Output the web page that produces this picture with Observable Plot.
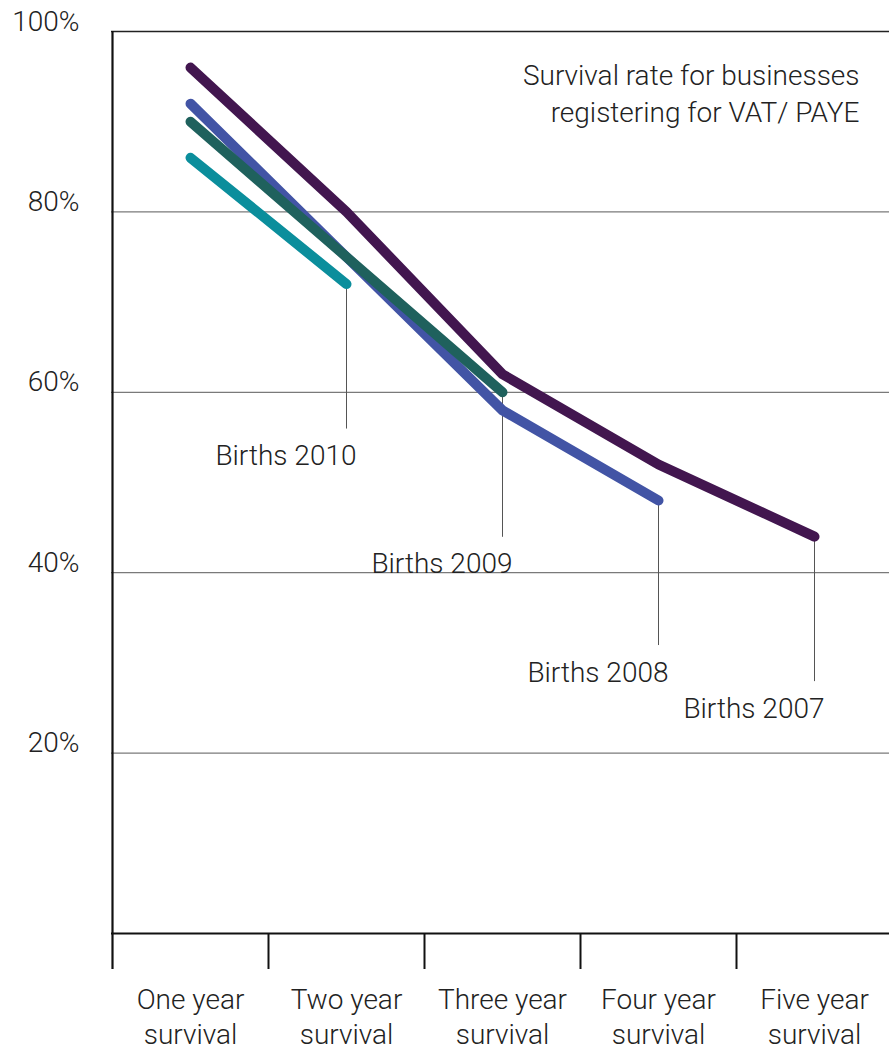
<!DOCTYPE html>
<html>
<head>
<meta charset="utf-8">
<script src="https://cdn.jsdelivr.net/npm/d3@7"></script>
<script src="https://cdn.jsdelivr.net/npm/@observablehq/plot@0.6"></script>
<style>
  html, body { margin: 0; padding: 0; background: #fff; }
  #chart svg { display: block; }
</style>
</head>
<body>
<div id="chart"></div>
<script>
// ---- Data ----
const stages = ["One year", "Two year", "Three year", "Four year", "Five year"];
const stageLabels = ["One year\nsurvival", "Two year\nsurvival", "Three year\nsurvival", "Four year\nsurvival", "Five year\nsurvival"];
const seriesNames = ["Births 2007", "Births 2008", "Births 2009", "Births 2010"];
const births2007 = [96, 80, 62, 52, 44];
const births2008 = [92, 75, 58, 48];
const births2009 = [90, 75, 60];
const births2010 = [86, 72];
const yTicks = [20, 40, 60, 80, 100];
const titleText = "Survival rate for businesses\nregistering for VAT/ PAYE";

// ---- Styles ----
const seriesColors = ["#42164f", "#4254a5", "#1f615d", "#0b8e9c"];
const FONT = "Roboto, 'Open Sans', sans-serif";

const seriesValues = [births2007, births2008, births2009, births2010];
const rows = seriesNames.flatMap((name, s) =>
  seriesValues[s].map((v, i) => ({series: name, stage: stages[i], value: v}))
);
const ends = seriesNames.map((name, s) => {
  const vals = seriesValues[s];
  return {series: name, stage: stages[vals.length - 1], value: vals[vals.length - 1]};
});
const ticks = stages.map((st, i) => ({stage: st, label: stageLabels[i]}));

const chart = Plot.plot({
  width: 889,
  height: 1053,
  marginLeft: 111,
  marginRight: 0,
  marginTop: 31,
  marginBottom: 120,
  style: {fontFamily: FONT, background: "#fff"},
  x: {type: "point", domain: stages, range: [189, 814], padding: 0, axis: null},
  y: {domain: [0, 100], axis: null},
  color: {domain: seriesNames, range: seriesColors},
  marks: [
    // gridlines
    Plot.ruleY(yTicks.filter(d => d < 100), {y: d => d, stroke: "#7a7a7a", strokeWidth: 1.2}),
    Plot.ruleY([100], {y: d => d, stroke: "#222", strokeWidth: 1.6}),
    // bottom axis line
    Plot.ruleY([0], {y: d => d, stroke: "#111", strokeWidth: 2.2}),
    // left axis line (extends into first tick)
    Plot.ruleX([stages[0]], {x: d => d, dx: -78, stroke: "#111", strokeWidth: 2.2, insetBottom: -36}),
    // x ticks at category boundaries
    Plot.ruleX(stages.slice(1), {x: d => d, dx: -78, y1: 0, stroke: "#111", strokeWidth: 2, insetBottom: -36}),
    // x tick labels
    Plot.text(ticks, {
      x: "stage", y: 0, text: "label", dy: 82, lineAnchor: "middle", lineHeight: 1.25,
      fontSize: 28, fontWeight: 300, fill: "#222"
    }),
    // y tick labels
    Plot.text(yTicks, {
      y: d => d, frameAnchor: "left", text: d => d + "%", textAnchor: "end", lineAnchor: "bottom",
      dx: -32, dy: -1, fontSize: 28, fontWeight: 300, fill: "#222"
    }),
    // leader lines
    Plot.ruleX(ends, {x: "stage", y1: "value", y2: "value", insetBottom: -145, stroke: "#555", strokeWidth: 1}),
    // series lines
    Plot.line(rows, {
      x: "stage", y: "value", z: "series", stroke: "series",
      strokeWidth: 10, strokeLinecap: "round", strokeLinejoin: "round"
    }),
    // series labels
    Plot.text(ends, {
      x: "stage", y: "value", text: "series", textAnchor: "end", lineAnchor: "bottom",
      dx: 10, dy: 181, fontSize: 28, fontWeight: 300, fill: "#222"
    }),
    // title
    Plot.text([titleText], {
      frameAnchor: "top-right", text: d => d, textAnchor: "end", lineAnchor: "top",
      dx: -30, dy: 28, lineHeight: 1.3, fontSize: 28, fontWeight: 300, fill: "#222"
    })
  ]
});
document.getElementById("chart").appendChild(chart);
</script>
</body>
</html>
